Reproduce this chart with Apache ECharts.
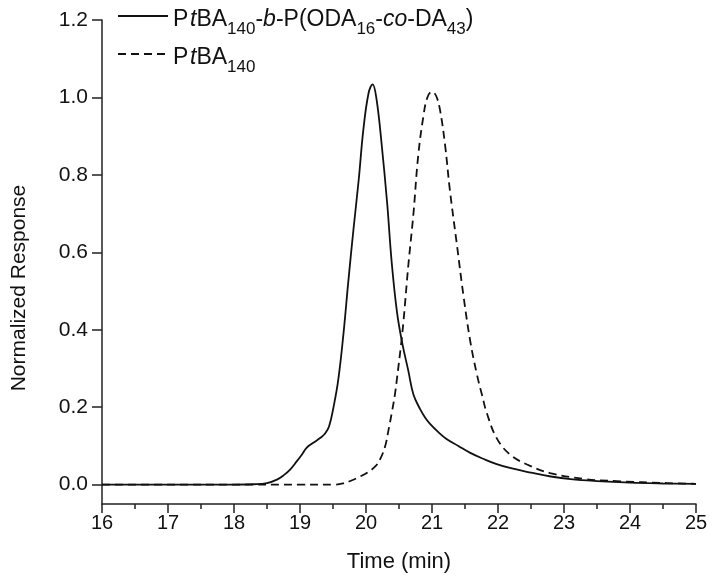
<!DOCTYPE html>
<html>
<head>
<meta charset="utf-8">
<script src="https://cdn.jsdelivr.net/npm/echarts@6/dist/echarts.min.js"></script>
<style>html,body{margin:0;padding:0;background:#fff;}#c{width:714px;height:585px;}</style>
</head>
<body>
<div id="c"></div>
<script>
// ---- data ----
var copolymerTime = [16.0, 17.0, 18.0, 18.3, 18.5, 18.65, 18.75, 18.85, 18.95, 19.03, 19.1, 19.2, 19.31, 19.38, 19.44, 19.51, 19.58, 19.66, 19.73, 19.81, 19.89, 19.96, 20.04, 20.10, 20.16, 20.24, 20.32, 20.39, 20.47, 20.55, 20.64, 20.72, 20.82, 20.9, 20.97, 21.1, 21.22, 21.4, 21.58, 21.8, 21.98, 22.18, 22.5, 22.8, 23.1, 23.5, 24.0, 24.5, 25.0];
var copolymerResp = [0, 0, 0, 0.001, 0.004, 0.013, 0.024, 0.039, 0.060, 0.078, 0.095, 0.108, 0.121, 0.132, 0.150, 0.202, 0.271, 0.392, 0.521, 0.659, 0.788, 0.917, 1.012, 1.034, 0.995, 0.874, 0.728, 0.573, 0.445, 0.365, 0.295, 0.232, 0.195, 0.172, 0.157, 0.135, 0.118, 0.100, 0.082, 0.065, 0.053, 0.043, 0.031, 0.021, 0.014, 0.009, 0.005, 0.003, 0.002];
var homoTime = [16.0, 17.0, 18.0, 19.0, 19.5, 19.65, 19.8, 19.91, 20.01, 20.14, 20.22, 20.29, 20.34, 20.39, 20.44, 20.47, 20.53, 20.57, 20.64, 20.72, 20.79, 20.87, 20.93, 21.0, 21.06, 21.12, 21.20, 21.27, 21.38, 21.48, 21.58, 21.68, 21.76, 21.83, 21.98, 22.18, 22.44, 22.79, 23.29, 23.8, 24.56, 25.0];
var homoResp = [0, 0, 0, 0, 0, 0.003, 0.012, 0.021, 0.030, 0.047, 0.068, 0.099, 0.140, 0.185, 0.235, 0.275, 0.360, 0.426, 0.564, 0.702, 0.848, 0.952, 1.000, 1.015, 1.005, 0.969, 0.874, 0.762, 0.616, 0.484, 0.370, 0.285, 0.230, 0.185, 0.120, 0.078, 0.052, 0.030, 0.015, 0.009, 0.004, 0.002];
var yTicks = [0, 0.2, 0.4, 0.6, 0.8, 1.0, 1.2];
var seriesNames = ['PtBA140-b-P(ODA16-co-DA43)', 'PtBA140'];
var legendRich = [
  '{n|P}{g| }{i|t}{n|BA}{s|140}{n|-}{i|b}{n|-P(ODA}{s|16}{n|-}{i|co}{n|-DA}{s|43}{n|)}',
  '{n|P}{g| }{i|t}{n|BA}{s|140}'
];
var xName = 'Time (min)';
var yName = 'Normalized Response';

function pairs(xs, ys) { return xs.map(function (x, i) { return [x, ys[i]]; }); }

var FONT = '"Liberation Sans", Arial, sans-serif';
var chart = echarts.init(document.getElementById('c'), null, { renderer: 'canvas' });
chart.setOption({
  animation: false,
  backgroundColor: '#ffffff',
  grid: { left: 102, right: 18, top: 20, bottom: 81, containLabel: false },
  legend: {
    orient: 'vertical',
    left: 112,
    top: -4,
    itemWidth: 50,
    itemHeight: 14,
    itemGap: 1,
    selectedMode: false,
    data: seriesNames,
    itemStyle: { color: 'rgba(0,0,0,0)', borderWidth: 0, opacity: 0 },
    formatter: function (name) { return legendRich[seriesNames.indexOf(name)]; },
    textStyle: {
      color: '#111',
      rich: {
        n: { fontFamily: FONT, fontSize: 23, lineHeight: 30, verticalAlign: 'bottom', color: '#111' },
        i: { fontFamily: FONT, fontSize: 23, lineHeight: 30, verticalAlign: 'bottom', fontStyle: 'italic', color: '#111' },
        s: { fontFamily: FONT, fontSize: 17, lineHeight: 10, verticalAlign: 'top', padding: [20, 0, 0, 0], color: '#111' },
        g: { fontFamily: FONT, fontSize: 6, lineHeight: 30, verticalAlign: 'bottom', color: '#111' }
      }
    }
  },
  xAxis: {
    type: 'value',
    min: 16, max: 25, interval: 1,
    name: xName, nameLocation: 'middle', nameGap: 47,
    nameTextStyle: { fontFamily: FONT, fontSize: 22, color: '#111' },
    axisLine: { onZero: false, lineStyle: { color: '#222', width: 1.5 } },
    axisTick: { show: true, inside: false, length: 9, lineStyle: { color: '#222', width: 1.5 } },
    minorTick: { show: true, splitNumber: 2, length: 5, lineStyle: { color: '#222', width: 1.5 } },
    axisLabel: { fontFamily: FONT, fontSize: 20, color: '#111', margin: 9 },
    splitLine: { show: false }
  },
  yAxis: {
    type: 'value',
    min: -0.05, max: 1.2,
    name: yName, nameLocation: 'middle', nameGap: 72,
    nameTextStyle: { fontFamily: FONT, fontSize: 21, color: '#111', padding: [0, 52, 0, 0] },
    axisLine: { onZero: false, lineStyle: { color: '#222', width: 1.5 } },
    axisTick: { show: true, inside: false, length: 10, customValues: yTicks, lineStyle: { color: '#222', width: 1.5 } },
    axisLabel: { fontFamily: FONT, fontSize: 21, color: '#111', margin: 14, customValues: yTicks,
      formatter: function (v) { return v.toFixed(1); } },
    splitLine: { show: false }
  },
  series: [
    {
      name: seriesNames[0], type: 'line', symbol: 'none', smooth: 0.4,
      data: pairs(copolymerTime, copolymerResp),
      lineStyle: { color: '#111', width: 1.8, type: 'solid' }, itemStyle: { color: '#111' }
    },
    {
      name: seriesNames[1], type: 'line', symbol: 'none', smooth: 0.4,
      data: pairs(homoTime, homoResp),
      lineStyle: { color: '#111', width: 1.8, type: [8, 5] }, itemStyle: { color: '#111' }
    }
  ]
});
</script>
</body>
</html>
